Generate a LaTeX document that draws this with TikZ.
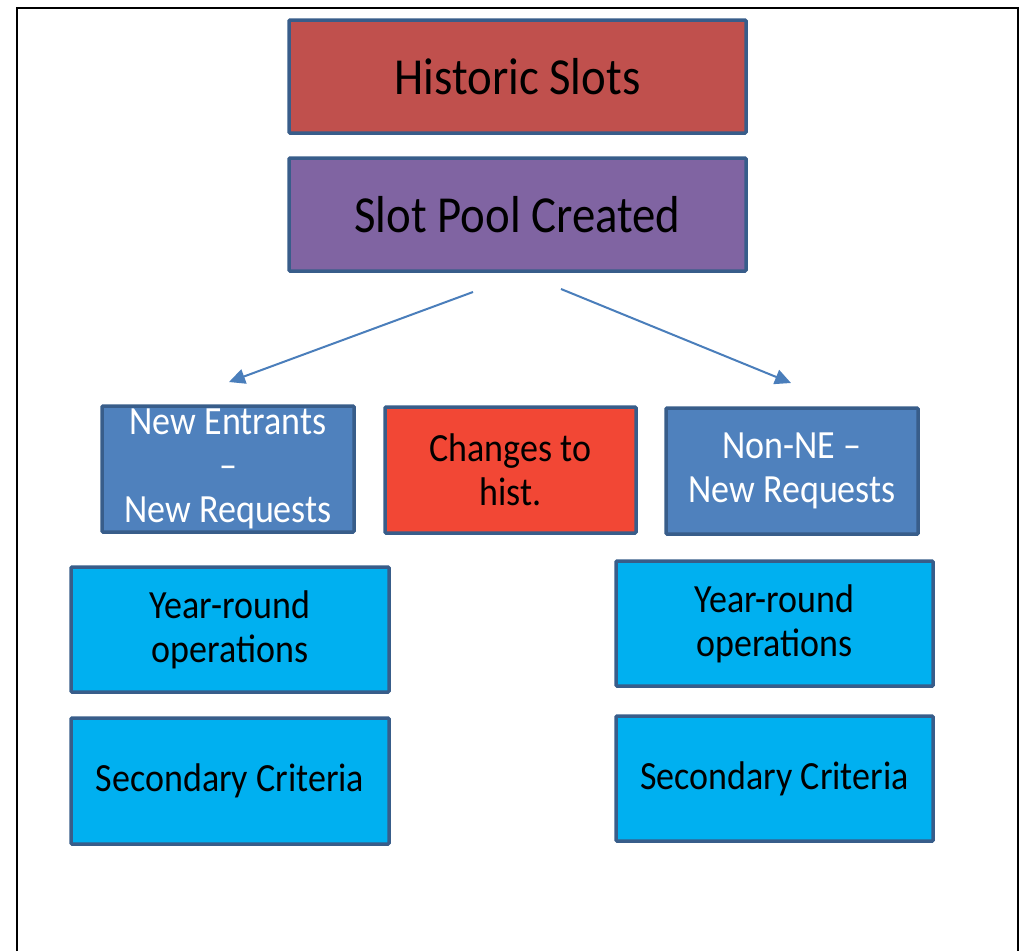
\documentclass[tikz,border=0pt]{standalone}
\usepackage{fontspec}
\setmainfont[FakeStretch=0.9]{Carlito}
\usetikzlibrary{arrows.meta}
\definecolor{bord}{HTML}{385D8A}
\definecolor{histc}{HTML}{C0504D}
\definecolor{poolc}{HTML}{8064A2}
\definecolor{nec}{HTML}{4F81BD}
\definecolor{chc}{HTML}{F24735}
\definecolor{cyanc}{HTML}{00B0F0}
\definecolor{arrc}{HTML}{4A7EBB}
\tikzset{
  box/.style={draw=bord, line width=3.5pt, rounded corners=1pt, minimum width=#1, align=center, inner sep=0pt},
  box/.default=457pt,
  big/.style={font=\fontsize{52}{60}\selectfont},
  small/.style={font=\fontsize{40}{44}\selectfont},
  arr/.style={draw=arrc, line width=2pt, -{Triangle[length=16pt,width=15pt]}},
}
\begin{document}
\begin{tikzpicture}[x=1pt,y=-1pt]
\useasboundingbox (0,0) rectangle (1024,951);
\draw[line width=2.5pt, black] (17,951) -- (17,8) -- (1018,8) -- (1018,951);
\node[box=457pt, minimum height=113pt, fill=histc, big] (hist) at (517.5,76.5) {Historic Slots};
\node[box=457pt, minimum height=113pt, fill=poolc, big] (pool) at (517.5,214.5) {Slot Pool Created};
\node[box=252pt, minimum height=126pt, fill=nec, text=white, small] (ne) at (228,469) {New Entrants\\–\\New Requests};
\node[box=251pt, minimum height=126pt, fill=chc, small] (ch) at (510.5,470) {Changes to\\hist.};
\node[box=252pt, minimum height=126pt, fill=nec, text=white, small] (nne) at (792,471) {Non-NE –\\New Requests};
\node[box=318pt, minimum height=125pt, fill=cyanc, small] (yl) at (230,629.5) {Year-round\\operations};
\node[box=318pt, minimum height=126pt, fill=cyanc, small] (sl) at (230,781) {Secondary Criteria};
\node[box=317pt, minimum height=125pt, fill=cyanc, small] (yr) at (774.5,623.5) {Year-round\\operations};
\node[box=317pt, minimum height=125pt, fill=cyanc, small] (sr) at (774.5,778.5) {Secondary Criteria};
\coordinate (la) at (473,292);
\coordinate (lb) at (229,382);
\coordinate (ra) at (561,289);
\coordinate (rb) at (791,383);
\draw[arr] (la) -- (lb);
\draw[arr] (ra) -- (rb);
\end{tikzpicture}
\end{document}
